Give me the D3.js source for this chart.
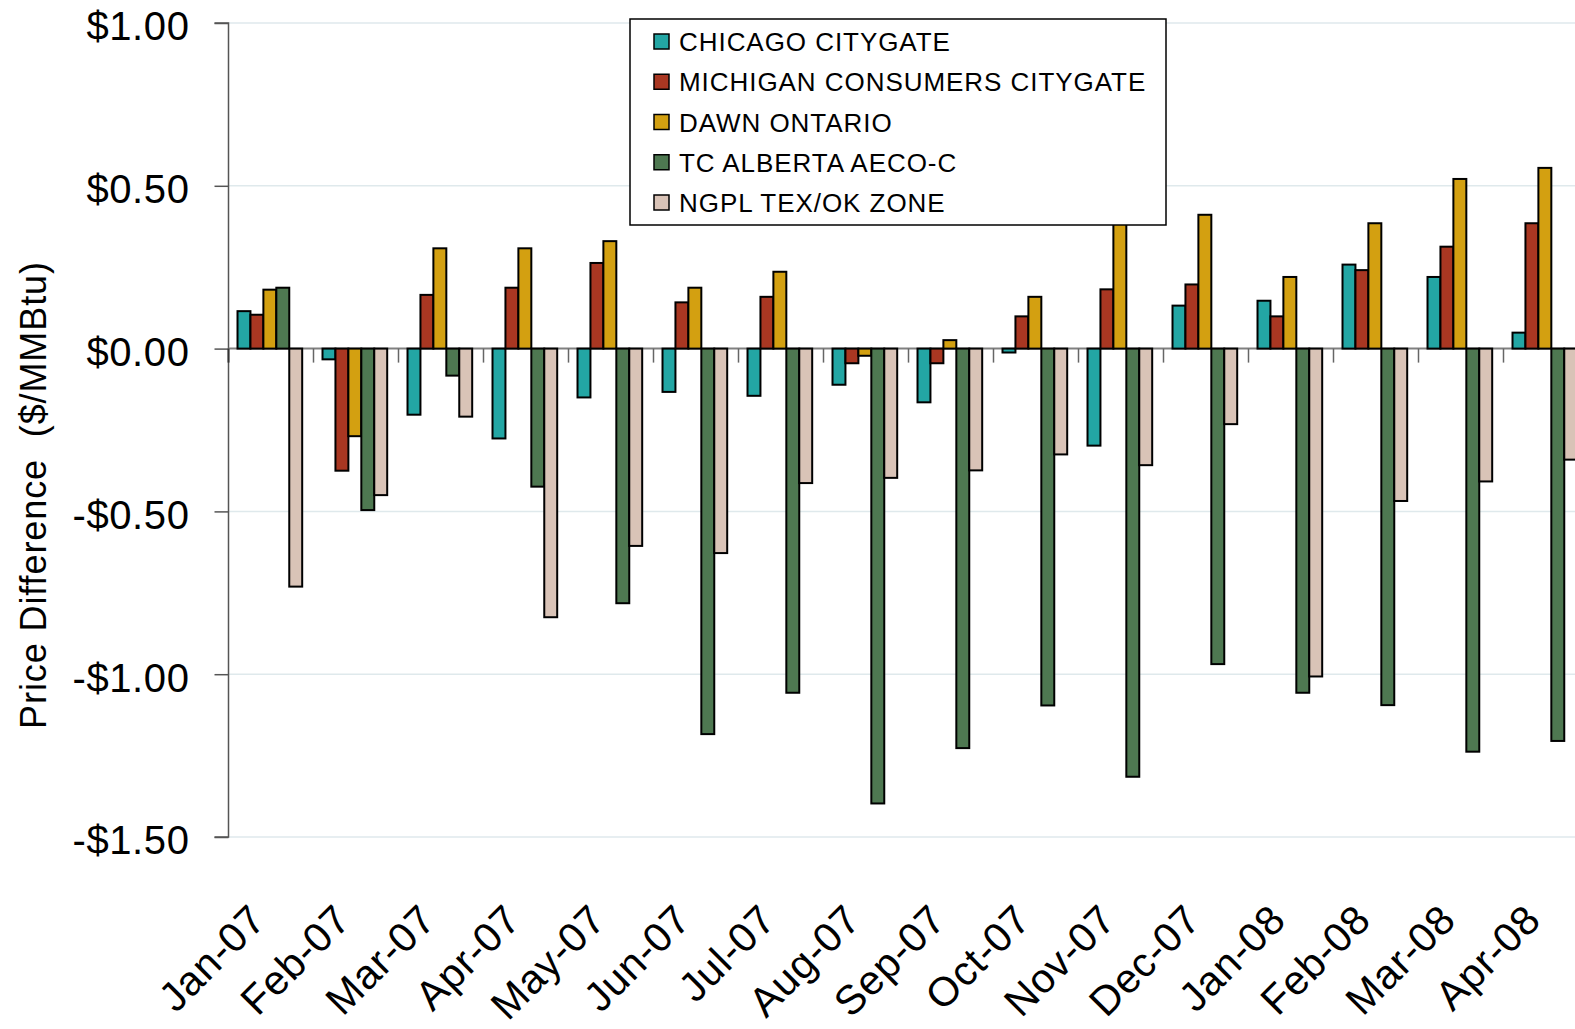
<!DOCTYPE html>
<html>
<head>
<meta charset="utf-8">
<script src="https://cdn.jsdelivr.net/npm/d3@7"></script>
<style>
  html, body { margin: 0; padding: 0; background: #fff; overflow: hidden; }
  svg { display: block; font-family: "Liberation Sans", Arial, sans-serif; }
</style>
</head>
<body>
<svg id="chart" width="1575" height="1029"></svg>
<script>
// ---- data ----
const months = ["Jan-07","Feb-07","Mar-07","Apr-07","May-07","Jun-07","Jul-07","Aug-07",
                "Sep-07","Oct-07","Nov-07","Dec-07","Jan-08","Feb-08","Mar-08","Apr-08"];
const seriesNames = ["CHICAGO CITYGATE","MICHIGAN CONSUMERS CITYGATE","DAWN ONTARIO","TC ALBERTA AECO-C","NGPL TEX/OK ZONE"];
const chicago  = [0.115,-0.033,-0.203,-0.276,-0.150,-0.133,-0.145,-0.111,-0.165,-0.012,-0.298, 0.132, 0.147, 0.258, 0.220, 0.049];
const michigan = [0.104,-0.375, 0.165, 0.187, 0.263, 0.142, 0.159,-0.045,-0.045, 0.099, 0.182, 0.197, 0.099, 0.241, 0.313, 0.385];
const dawn     = [0.181,-0.269, 0.308, 0.308, 0.330, 0.187, 0.236,-0.022, 0.026, 0.159, 0.400, 0.411, 0.220, 0.385, 0.521, 0.555];
const aeco     = [0.187,-0.496,-0.083,-0.424,-0.782,-1.184,-1.057,-1.397,-1.227,-1.096,-1.315,-0.969,-1.057,-1.095,-1.238,-1.205];
const ngpl     = [-0.731,-0.450,-0.209,-0.825,-0.606,-0.628,-0.413,-0.397,-0.374,-0.325,-0.358,-0.232,-1.007,-0.468,-0.408,-0.341];
const yTicks = [1.0, 0.5, 0.0, -0.5, -1.0, -1.5];
const yTickLabels = ["$1.00","$0.50","$0.00","-$0.50","-$1.00","-$1.50"];
const yTitle = "Price Difference  ($/MMBtu)";

const seriesValues = [chicago, michigan, dawn, aeco, ngpl];
const colors = ["#23A6A4","#A93722","#D3A011","#4E7851","#D9C3B7"];

// ---- layout ----
const svg = d3.select("#chart");
const plotLeft = 228.5, plotTop = 23, plotBottom = 837;
const step = 85;
const x0 = d3.scaleBand().domain(months).range([plotLeft, plotLeft + step * months.length]).padding(0);
const bw = x0.bandwidth();
const x1 = d3.scaleBand().domain(d3.range(seriesNames.length)).range([0.106 * bw, 0.867 * bw]).padding(0);
const y = d3.scaleLinear().domain([-1.5, 1.0]).range([plotBottom, plotTop]);

// gridlines
svg.append("g").selectAll("line")
  .data(yTicks.filter(v => v !== 0))
  .join("line")
  .attr("x1", plotLeft).attr("x2", 1575)
  .attr("y1", d => y(d)).attr("y2", d => y(d))
  .attr("stroke", "#DFE9EC").attr("stroke-width", 1.5);

// y axis
const yAxis = d3.axisLeft(y).tickValues(yTicks)
  .tickFormat((d, i) => yTickLabels[i]).tickSize(14).tickPadding(25);
const gy = svg.append("g").attr("transform", `translate(${plotLeft},0)`).call(yAxis);
gy.select(".domain").attr("stroke", "#555").attr("stroke-width", 1.5).attr("d", `M-14,${plotTop}H0V${plotBottom}H-14`);
gy.selectAll(".tick line").attr("stroke", "#555").attr("stroke-width", 1.5);
gy.selectAll(".tick text").attr("font-size", 40).attr("fill", "#000")
  .attr("letter-spacing", 0.6)
  .attr("font-family", "'Liberation Sans', Arial, sans-serif").attr("dy", "0.42em");

// x axis at zero with ticks below at category boundaries
const gx = svg.append("g");
gx.append("line").attr("x1", plotLeft).attr("x2", 1575).attr("y1", y(0)).attr("y2", y(0))
  .attr("stroke", "#808080").attr("stroke-width", 2);
gx.selectAll("line.tk").data(months).join("line").attr("class", "tk")
  .attr("x1", d => x0(d) + bw).attr("x2", d => x0(d) + bw)
  .attr("y1", y(0)).attr("y2", y(0) + 14)
  .attr("stroke", "#666").attr("stroke-width", 1.5);
gx.append("line").attr("x1", plotLeft).attr("x2", plotLeft).attr("y1", y(0)).attr("y2", y(0) + 14)
  .attr("stroke", "#333").attr("stroke-width", 2);

// bars
const groups = svg.append("g").selectAll("g")
  .data(months).join("g")
  .attr("transform", d => `translate(${x0(d)},0)`);
groups.selectAll("rect")
  .data((m, mi) => seriesValues.map((arr, si) => ({ si, v: arr[mi] })))
  .join("rect")
  .attr("x", d => x1(d.si))
  .attr("width", x1.bandwidth())
  .attr("y", d => y(Math.max(0, d.v)))
  .attr("height", d => Math.abs(y(d.v) - y(0)))
  .attr("fill", d => colors[d.si])
  .attr("stroke", "#000").attr("stroke-width", 2);

// x labels
svg.append("g").selectAll("text")
  .data(months).join("text")
  .attr("transform", d => `translate(${x0(d) + bw / 2 - 3},922) rotate(-45)`)
  .attr("text-anchor", "end")
  .attr("font-size", 41)
  .attr("letter-spacing", 0.8)
  .attr("fill", "#000")
  .text(d => d);

// y title
svg.append("text")
  .attr("transform", "translate(46,495) rotate(-90)")
  .attr("text-anchor", "middle")
  .attr("font-size", 36)
  .attr("letter-spacing", 0.9)
  .attr("fill", "#000")
  .style("white-space", "pre")
  .text(yTitle);

// legend
const lg = svg.append("g");
lg.append("rect").attr("x", 630).attr("y", 19).attr("width", 536).attr("height", 206)
  .attr("fill", "#fff").attr("stroke", "#000").attr("stroke-width", 1.5);
const items = lg.selectAll("g.item").data(seriesNames).join("g").attr("class", "item")
  .attr("transform", (d, i) => `translate(0,${51 + i * 40.25})`);
items.append("rect").attr("x", 654).attr("y", -17).attr("width", 15).attr("height", 15)
  .attr("fill", (d, i) => colors[i]).attr("stroke", "#000").attr("stroke-width", 1.5);
items.append("text").attr("x", 679).attr("y", 0)
  .attr("font-size", 26).attr("letter-spacing", 0.95).attr("fill", "#000")
  .text(d => d);
</script>
</body>
</html>
